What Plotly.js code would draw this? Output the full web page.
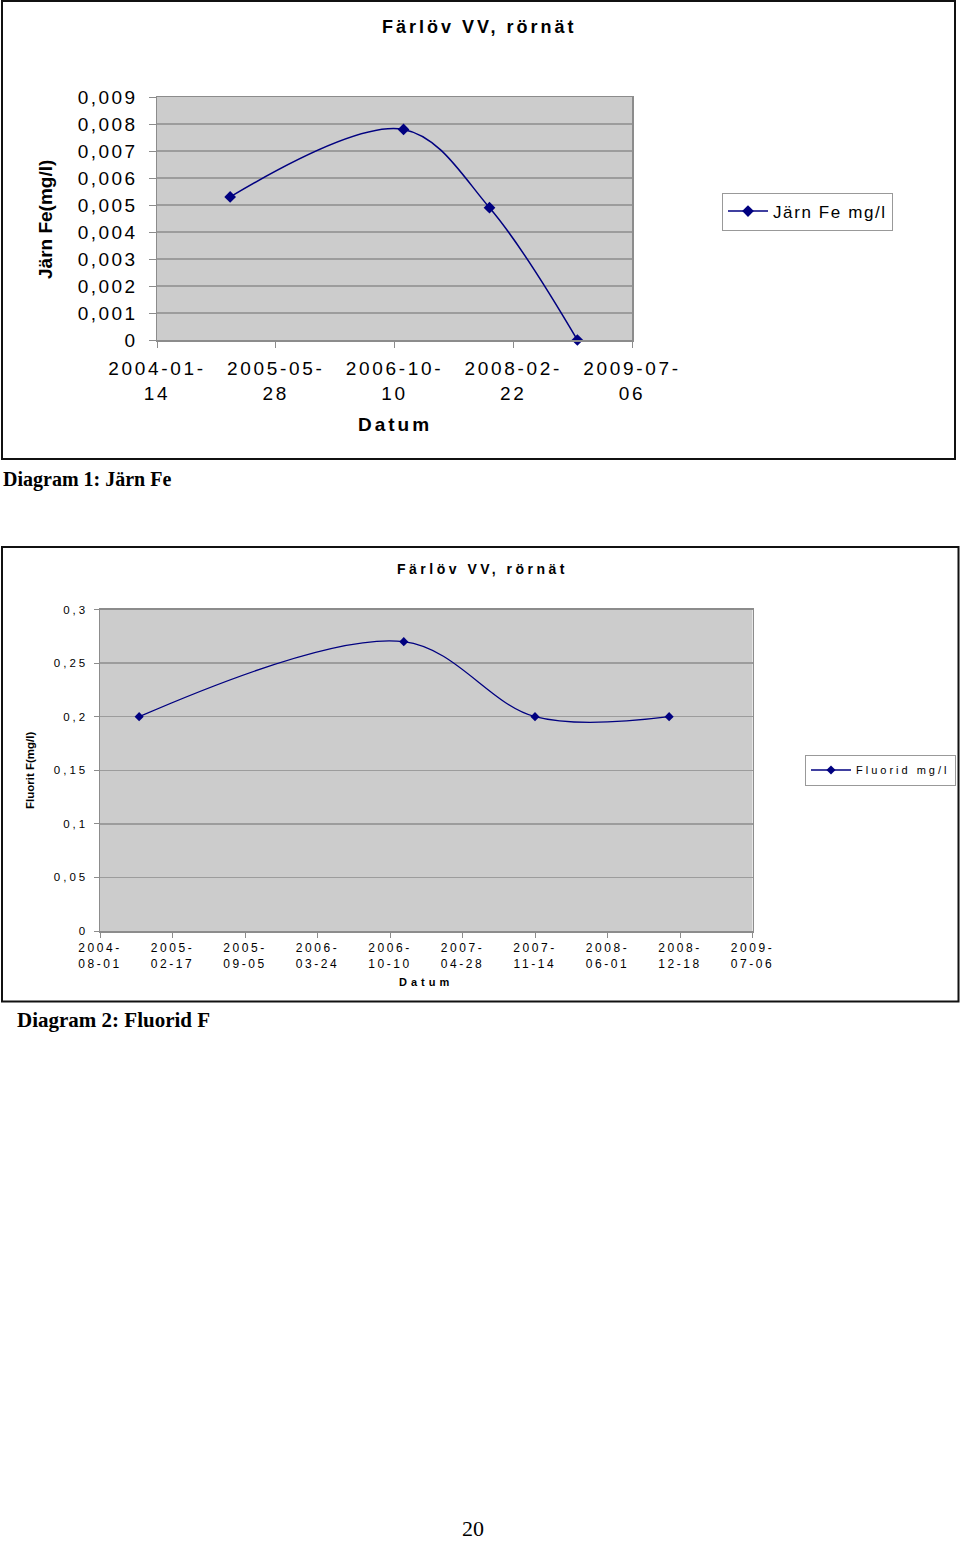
<!DOCTYPE html>
<html>
<head>
<meta charset="utf-8">
<script src="https://cdn.plot.ly/plotly-3.0.1.min.js"></script>
<style>
html,body{margin:0;padding:0;background:#fff;}
#chart{width:960px;height:1543px;}
</style>
</head>
<body>
<div id="chart"></div>
<script>
// ---------- data ----------
const sampleDates = ['2004-11-17', '2006-11-17', '2007-11-14', '2008-11-18'];
const jarnFe = [0.0053, 0.0078, 0.0049, 0];
const fluorid = [0.2, 0.27, 0.2, 0.2];

const feXTickVals = ['2004-01-14', '2005-05-28', '2006-10-10', '2008-02-22', '2009-07-06'];
const feXTickText = ['2004-01-<br>14', '2005-05-<br>28', '2006-10-<br>10', '2008-02-<br>22', '2009-07-<br>06'];
const feYTickVals = [0, 0.001, 0.002, 0.003, 0.004, 0.005, 0.006, 0.007, 0.008, 0.009];
const feYTickText = ['0', '0,001', '0,002', '0,003', '0,004', '0,005', '0,006', '0,007', '0,008', '0,009'];

const fXTickVals = ['2004-08-01', '2005-02-17', '2005-09-05', '2006-03-24', '2006-10-10',
                    '2007-04-28', '2007-11-14', '2008-06-01', '2008-12-18', '2009-07-06'];
const fXTickText = ['2004-<br>08-01', '2005-<br>02-17', '2005-<br>09-05', '2006-<br>03-24', '2006-<br>10-10',
                    '2007-<br>04-28', '2007-<br>11-14', '2008-<br>06-01', '2008-<br>12-18', '2009-<br>07-06'];
const fYTickVals = [0, 0.05, 0.1, 0.15, 0.2, 0.25, 0.3];
const fYTickText = ['0', '0,05', '0,1', '0,15', '0,2', '0,25', '0,3'];

const chartTitle = 'Färlöv VV, rörnät';
const feName = 'Järn Fe mg/l';
const fName = 'Fluorid mg/l';
const feYTitle = 'Järn Fe(mg/l)';
const fYTitle = 'Fluorit F(mg/l)';
const xTitle = 'Datum';
const caption1 = 'Diagram 1: Järn Fe';
const caption2 = 'Diagram 2: Fluorid F';
const pageNo = '20';

// ---------- helpers ----------
const W = 960, H = 1543;
const px = v => v / W;
const py = v => 1 - v / H;
const sp = (s, ls) => s.split('<br>').map(p => `<span style="letter-spacing:${ls}px">${p}</span>`).join('<br>');
const SANS = 'Liberation Sans, Arial, Helvetica, sans-serif';
const SERIF = 'Liberation Serif, Times New Roman, serif';
const NAVY = '#000080';
const AXC = '#8c8c8c';
const GRID = '#9c9c9c';

const traces = [
  {
    x: sampleDates, y: jarnFe, xaxis: 'x', yaxis: 'y', legend: 'legend',
    name: sp(feName, 1.6), type: 'scatter', mode: 'lines+markers', cliponaxis: false,
    line: {shape: 'spline', smoothing: 1, color: NAVY, width: 1.5},
    marker: {symbol: 'diamond', size: 9, color: NAVY}
  },
  {
    x: sampleDates, y: fluorid, xaxis: 'x2', yaxis: 'y2', legend: 'legend2',
    name: sp(fName, 3), type: 'scatter', mode: 'lines+markers', cliponaxis: false,
    line: {shape: 'spline', smoothing: 1, color: NAVY, width: 1.3},
    marker: {symbol: 'diamond', size: 7, color: NAVY}
  }
];

const axBase = {
  showline: true, linecolor: AXC, linewidth: 1.5, mirror: true, zeroline: false,
  ticks: 'outside', tickcolor: AXC, tickwidth: 1, tickmode: 'array', tickangle: 0
};

const layout = {
  width: W, height: H, autosize: false,
  margin: {l: 0, r: 0, t: 0, b: 0, pad: 0},
  paper_bgcolor: '#ffffff', plot_bgcolor: '#cccccc',
  showlegend: true,
  xaxis: Object.assign({}, axBase, {
    domain: [px(157), px(632)], anchor: 'y', type: 'date',
    range: ['2004-01-14', '2009-07-06'],
    tickvals: feXTickVals, ticktext: feXTickText.map(t => sp(t, 2.7)),
    ticklen: 6, showgrid: false, ticklabelstandoff: 5,
    tickfont: {family: SANS, size: 19, color: '#000'}
  }),
  yaxis: Object.assign({}, axBase, {
    domain: [py(340), py(97)], anchor: 'x',
    range: [0, 0.009],
    tickvals: feYTickVals, ticktext: feYTickText.map(t => sp(t, 2.5)),
    ticklen: 7, showgrid: true, gridcolor: GRID, gridwidth: 1.5, ticklabelstandoff: 7,
    tickfont: {family: SANS, size: 19, color: '#000'}
  }),
  xaxis2: Object.assign({}, axBase, {
    domain: [px(100), px(752.5)], anchor: 'y2', type: 'date',
    range: ['2004-08-01', '2009-07-06'],
    tickvals: fXTickVals, ticktext: fXTickText.map(t => sp(t, 2.6)),
    ticklen: 5, showgrid: false,
    tickfont: {family: SANS, size: 12, color: '#000'}
  }),
  yaxis2: Object.assign({}, axBase, {
    domain: [py(931), py(609.5)], anchor: 'x2',
    range: [0, 0.3],
    tickvals: fYTickVals, ticktext: fYTickText.map(t => sp(t, 3)),
    ticklen: 5, showgrid: true, gridcolor: GRID, gridwidth: 1.5, ticklabelstandoff: 3,
    tickfont: {family: SANS, size: 11.5, color: '#000'}
  }),
  legend: {
    x: px(722), y: py(211.5), xanchor: 'left', yanchor: 'middle',
    bgcolor: '#ffffff', bordercolor: '#999', borderwidth: 1,
    font: {family: SANS, size: 17, color: '#000'}, itemwidth: 40
  },
  legend2: {
    x: px(805), y: py(770), xanchor: 'left', yanchor: 'middle',
    bgcolor: '#ffffff', bordercolor: '#999', borderwidth: 1,
    font: {family: SANS, size: 11, color: '#000'}, itemwidth: 40
  },
  shapes: [
    {type: 'rect', xref: 'paper', yref: 'paper', x0: px(2), x1: px(955), y0: py(459), y1: py(1),
     line: {color: '#111', width: 2}, fillcolor: 'rgba(0,0,0,0)'},
    {type: 'rect', xref: 'paper', yref: 'paper', x0: px(2), x1: px(958.5), y0: py(1001.5), y1: py(547),
     line: {color: '#111', width: 2}, fillcolor: 'rgba(0,0,0,0)'}
  ],
  annotations: [
    {text: sp(chartTitle, 3), x: px(479), y: py(27), xref: 'paper', yref: 'paper',
     xanchor: 'center', yanchor: 'middle', showarrow: false,
     font: {family: SANS, size: 18, color: '#000', weight: 'bold'}},
    {text: sp(feYTitle, 0), x: px(45), y: py(220), xref: 'paper', yref: 'paper',
     xanchor: 'center', yanchor: 'middle', showarrow: false, textangle: -90,
     font: {family: SANS, size: 19, color: '#000', weight: 'bold'}},
    {text: sp(xTitle, 3), x: px(394.5), y: py(424), xref: 'paper', yref: 'paper',
     xanchor: 'center', yanchor: 'middle', showarrow: false,
     font: {family: SANS, size: 19, color: '#000', weight: 'bold'}},
    {text: sp(chartTitle, 3.5), x: px(482), y: py(569), xref: 'paper', yref: 'paper',
     xanchor: 'center', yanchor: 'middle', showarrow: false,
     font: {family: SANS, size: 14, color: '#000', weight: 'bold'}},
    {text: fYTitle, x: px(30), y: py(771), xref: 'paper', yref: 'paper',
     xanchor: 'center', yanchor: 'middle', showarrow: false, textangle: -90,
     font: {family: SANS, size: 11.5, color: '#000', weight: 'bold'}},
    {text: sp(xTitle, 4), x: px(426), y: py(982), xref: 'paper', yref: 'paper',
     xanchor: 'center', yanchor: 'middle', showarrow: false,
     font: {family: SANS, size: 11, color: '#000', weight: 'bold'}},
    {text: caption1, x: px(1), y: py(479), xref: 'paper', yref: 'paper',
     xanchor: 'left', yanchor: 'middle', showarrow: false,
     font: {family: SERIF, size: 20, color: '#000', weight: 'bold'}},
    {text: caption2, x: px(15), y: py(1020), xref: 'paper', yref: 'paper',
     xanchor: 'left', yanchor: 'middle', showarrow: false,
     font: {family: SERIF, size: 21, color: '#000', weight: 'bold'}},
    {text: pageNo, x: px(473), y: py(1542), xref: 'paper', yref: 'paper',
     xanchor: 'center', yanchor: 'bottom', showarrow: false, borderpad: 0,
     font: {family: SERIF, size: 22, color: '#000'}}
  ]
};

Plotly.newPlot('chart', traces, layout, {staticPlot: true, displayModeBar: false});
</script>
</body>
</html>
